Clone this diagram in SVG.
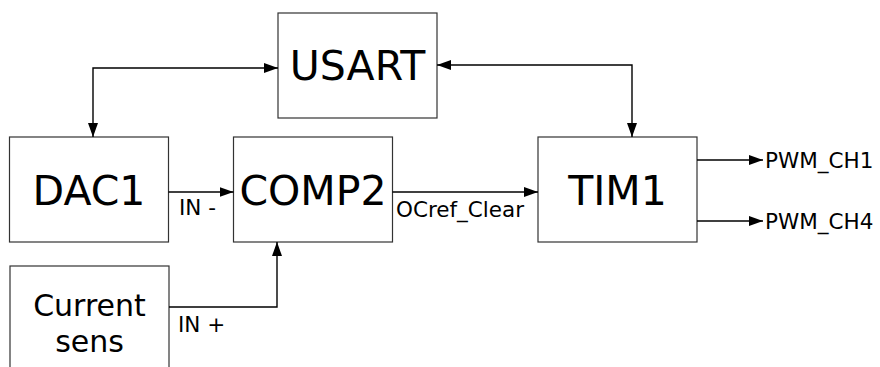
<svg xmlns="http://www.w3.org/2000/svg" width="880" height="367" viewBox="0 0 880 367">
<style>
  .box { fill: #ffffff; stroke: #333333; stroke-width: 1.2; }
  .big { font-family: "DejaVu Sans", Verdana, sans-serif; font-size: 41px; fill: #000; text-anchor: middle; }
  .mid { font-family: "DejaVu Sans", Verdana, sans-serif; font-size: 30px; fill: #000; text-anchor: middle; }
  .lbl { font-family: "DejaVu Sans", Verdana, sans-serif; font-size: 21.5px; fill: #000; }
  .wire { fill: none; stroke: #000; stroke-width: 1.4; }
</style>
<defs>
  <marker id="arr" markerUnits="userSpaceOnUse" markerWidth="16" markerHeight="12" refX="14" refY="5" orient="auto-start-reverse">
    <path d="M0,0 L14,5 L0,10 z" fill="#000"/>
  </marker>
</defs>
<rect width="880" height="367" fill="#ffffff"/>
<g id="usart">
  <rect class="box" x="278" y="13" width="159" height="105"/>
  <text class="big" x="357.5" y="80">USART</text>
</g>
<g id="dac1">
  <rect class="box" x="9.5" y="137" width="159" height="105"/>
  <text class="big" x="89" y="204.5">DAC1</text>
</g>
<g id="comp2">
  <rect class="box" x="233.5" y="137" width="159" height="105"/>
  <text class="big" x="313" y="204.5">COMP2</text>
</g>
<g id="tim1">
  <rect class="box" x="538" y="137" width="159" height="105"/>
  <text class="big" x="617.5" y="204.5">TIM1</text>
</g>
<g id="current-sens">
  <rect class="box" x="10" y="266" width="159" height="115"/>
  <text class="mid" x="89.5" y="316">Current</text>
  <text class="mid" x="89.5" y="352">sens</text>
</g>
<g id="connectors">
  <path class="wire" d="M278,68 H93 V137" marker-start="url(#arr)" marker-end="url(#arr)"/>
  <path class="wire" d="M437,65 H632 V137" marker-start="url(#arr)" marker-end="url(#arr)"/>
  <path class="wire" d="M168.5,192 H233.5" marker-end="url(#arr)"/>
  <path class="wire" d="M169,307 H277 V242" marker-end="url(#arr)"/>
  <path class="wire" d="M392.5,192 H538" marker-end="url(#arr)"/>
  <path class="wire" d="M697,160 H763" marker-end="url(#arr)"/>
  <path class="wire" d="M697,221 H763" marker-end="url(#arr)"/>
  <text class="lbl" x="179" y="215">IN -</text>
  <text class="lbl" x="178" y="332">IN +</text>
  <text class="lbl" x="396" y="217">OCref_Clear</text>
  <text class="lbl" x="765" y="168">PWM_CH1</text>
  <text class="lbl" x="765" y="229">PWM_CH4</text>
</g>
</svg>
